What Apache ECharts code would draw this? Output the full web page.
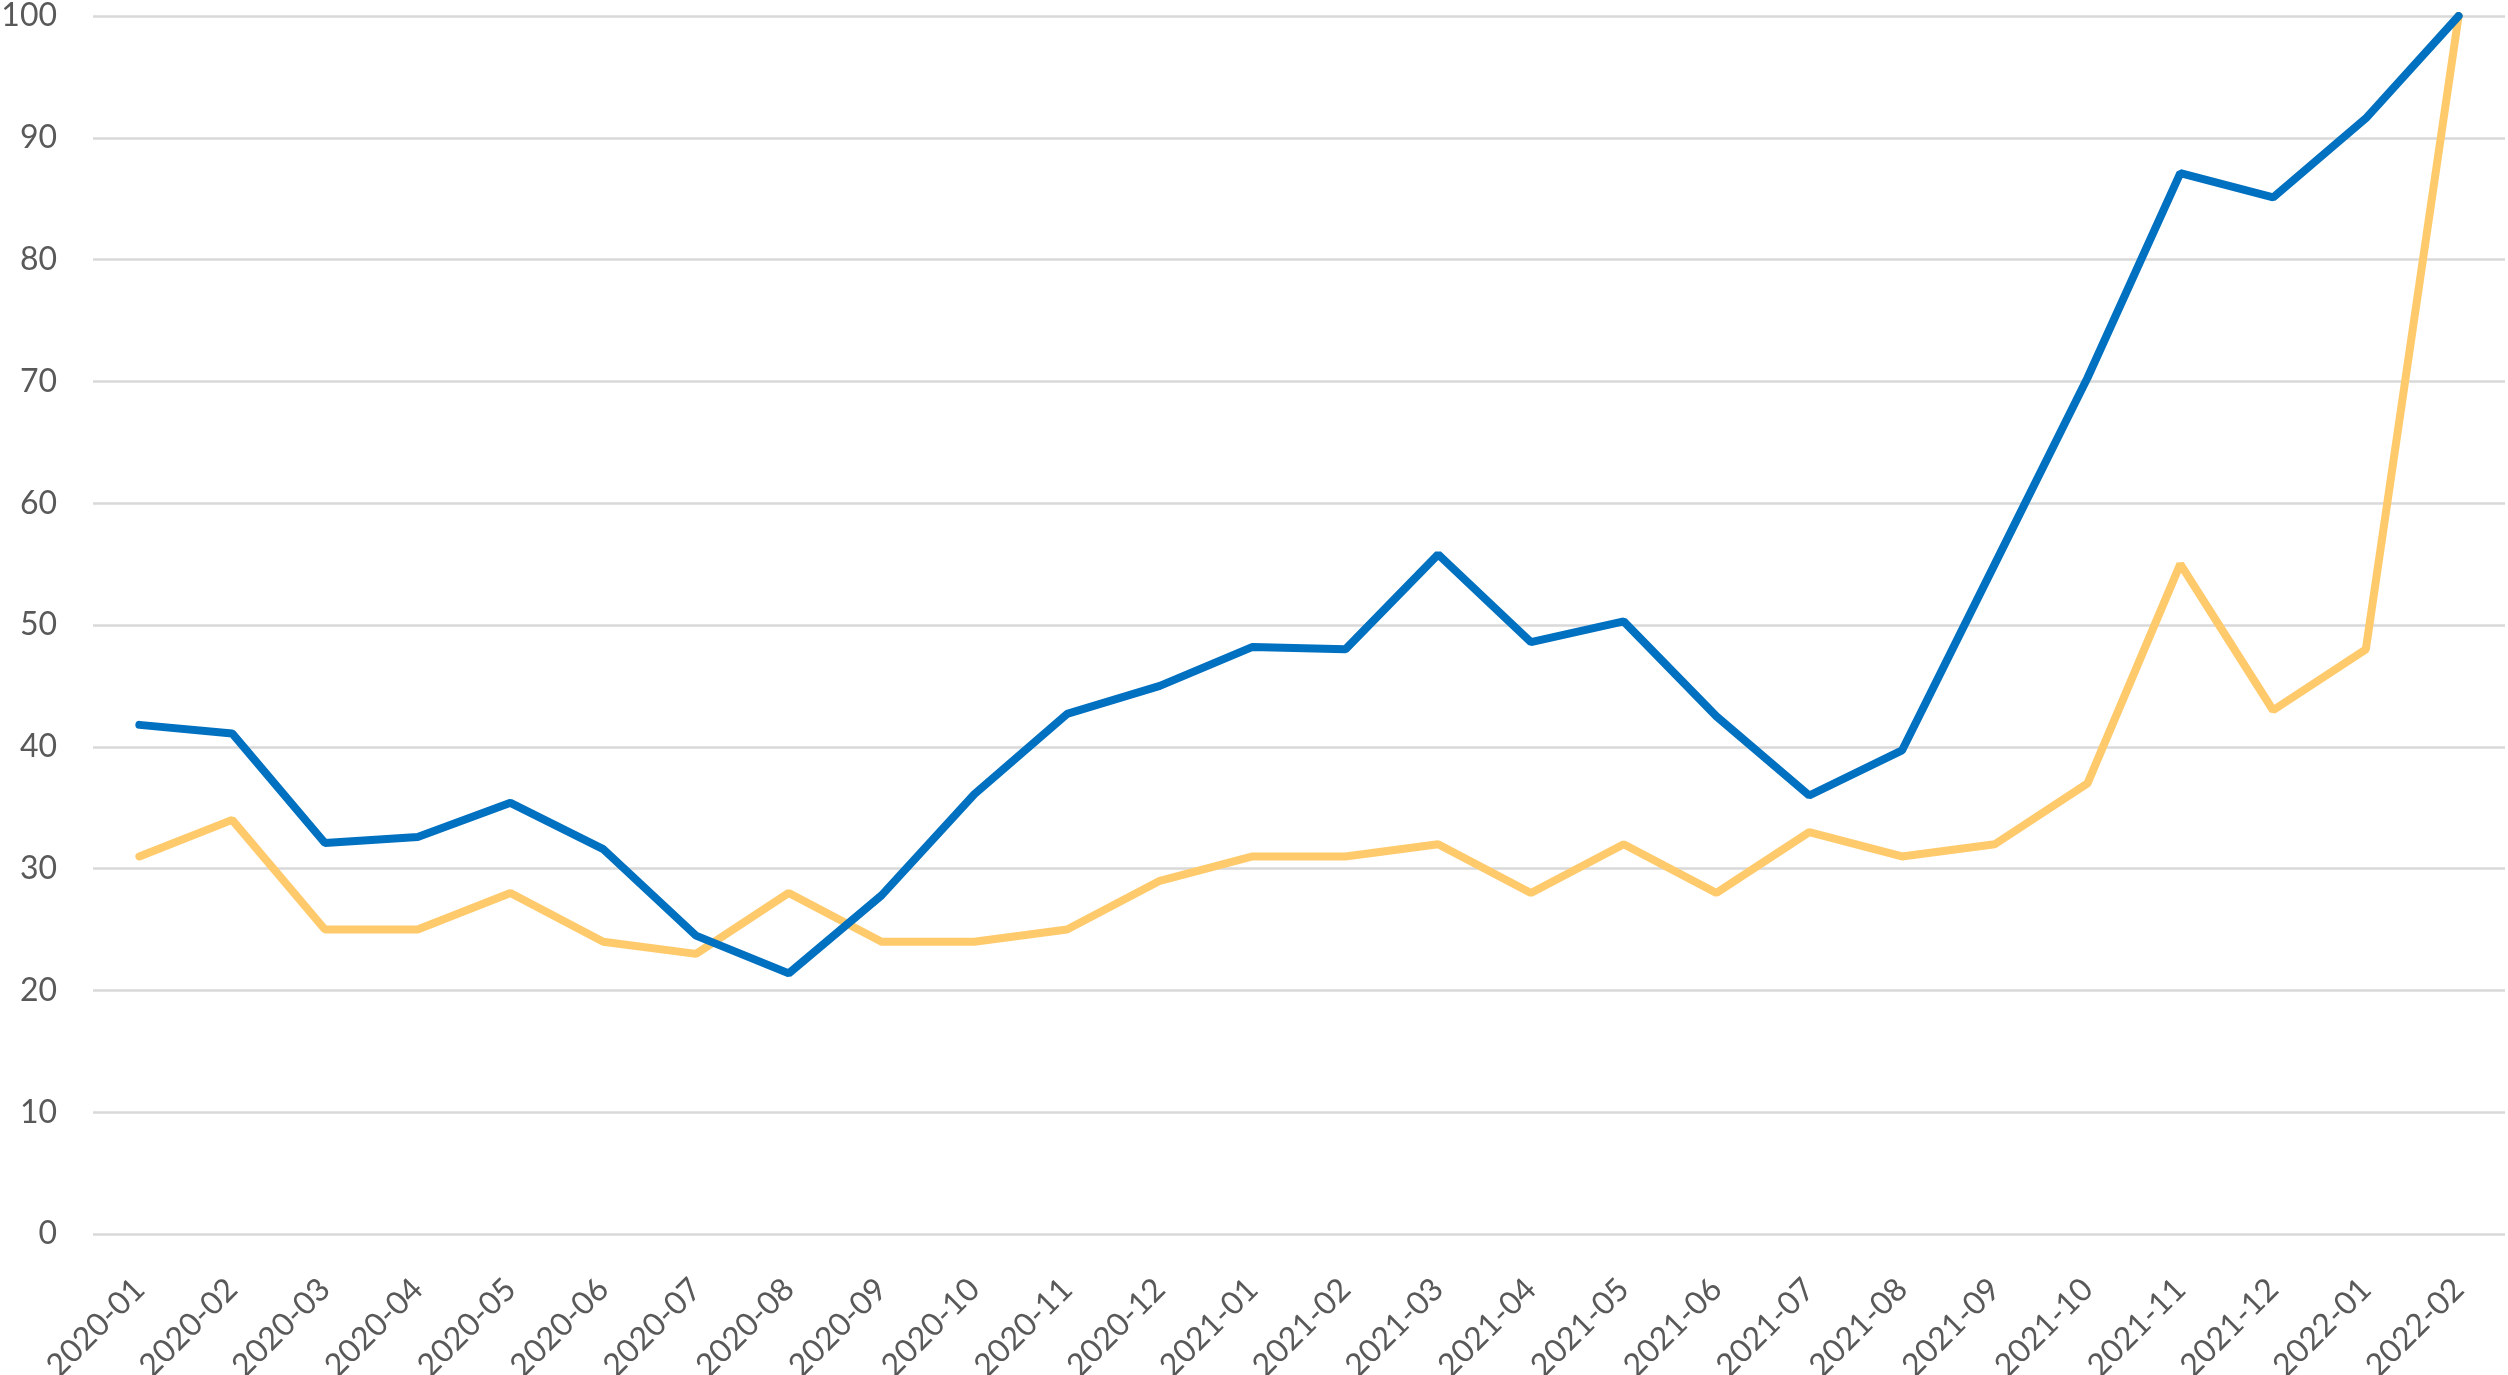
<!DOCTYPE html>
<html>
<head>
<meta charset="utf-8">
<script src="https://cdn.jsdelivr.net/npm/echarts@6/dist/echarts.min.js"></script>
<style>
html,body{margin:0;padding:0;background:#fff;}
#chart{width:2508px;height:1375px;}
</style>
</head>
<body>
<div id="chart"></div>
<script>
const categories = ['2020-01','2020-02','2020-03','2020-04','2020-05','2020-06','2020-07','2020-08','2020-09','2020-10','2020-11','2020-12','2021-01','2021-02','2021-03','2021-04','2021-05','2021-06','2021-07','2021-08','2021-09','2021-10','2021-11','2021-12','2022-01','2022-02'];
const blueValues = [41.8, 41.1, 32.1, 32.6, 35.4, 31.6, 24.5, 21.4, 27.8, 36.1, 42.7, 45.0, 48.2, 48.0, 55.8, 48.6, 50.3, 42.5, 36.0, 39.7, 55.0, 70.3, 87.1, 85.1, 91.6, 100];
const yellowValues = [31, 34, 25, 25, 28, 24, 23, 28, 24, 24, 25, 29, 31, 31, 32, 28, 32, 28, 33, 31, 32, 37, 55, 43, 48, 100];
const yTicks = {min: 0, max: 100, interval: 10};

const chart = echarts.init(document.getElementById('chart'), null, {renderer: 'canvas'});
chart.setOption({
  animation: false,
  backgroundColor: '#ffffff',
  grid: {left: 93, right: 3, top: 16, bottom: 141, containLabel: false, outerBoundsMode: 'none'},
  xAxis: {
    type: 'category',
    data: categories,
    boundaryGap: true,
    axisLine: {show: false},
    axisTick: {show: false},
    axisLabel: {
      rotate: 45,
      interval: 0,
      margin: 50,
      color: '#595959',
      fontFamily: 'Lato',
      fontSize: 32
    },
    splitLine: {show: false}
  },
  yAxis: {
    type: 'value',
    min: yTicks.min,
    max: yTicks.max,
    interval: yTicks.interval,
    axisLine: {show: false},
    axisTick: {show: false},
    axisLabel: {
      margin: 36,
      color: '#595959',
      fontFamily: 'Lato',
      fontSize: 32
    },
    splitLine: {show: true, lineStyle: {color: '#d9d9d9', width: 2.5}}
  },
  series: [
    {
      type: 'line',
      data: yellowValues,
      symbol: 'none',
      lineStyle: {color: '#FFCA6B', width: 8, cap: 'round'},
      itemStyle: {color: '#FFCA6B'}
    },
    {
      type: 'line',
      data: blueValues,
      symbol: 'none',
      lineStyle: {color: '#0070C0', width: 8, cap: 'round'},
      itemStyle: {color: '#0070C0'}
    }
  ]
});
</script>
</body>
</html>
